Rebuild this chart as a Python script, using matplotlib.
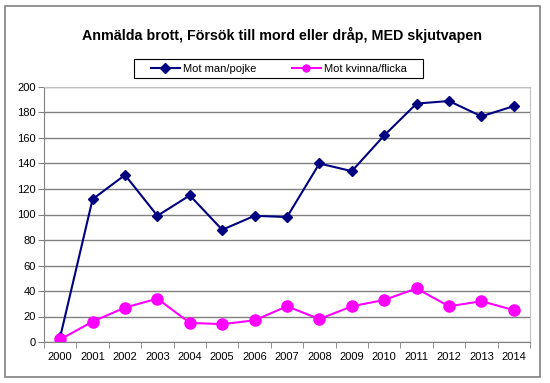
import numpy as np
import matplotlib.pyplot as plt
from matplotlib.patches import Rectangle

# data
years = ['2000', '2001', '2002', '2003', '2004', '2005', '2006', '2007',
         '2008', '2009', '2010', '2011', '2012', '2013', '2014']
man = [4, 112, 131, 99, 115, 88, 99, 98, 140, 134, 162, 187, 189, 177, 185]
kvinna = [2, 16, 27, 34, 15, 14, 17, 28, 18, 28, 33, 42, 28, 32, 25]

plt.rcParams['font.family'] = ['Liberation Sans', 'DejaVu Sans']

W, H = 550, 383
fig = plt.figure(figsize=(5.5, 3.83), dpi=100)
# yttre ram
fig.patches.append(Rectangle((5/W, 6/H), 535/W, 371/H, transform=fig.transFigure,
                             fill=False, edgecolor='#808080', linewidth=1.2))
# legendram
fig.patches.append(Rectangle((134/W, 1 - 78/H), 289/W, 19.5/H, transform=fig.transFigure,
                             fill=False, edgecolor='black', linewidth=0.8))

ax = fig.add_axes([44/W, 41/H, 486/W, 255/H])
x = np.arange(len(years))

ax.plot(x, man, color='#000080', marker='D', markersize=5.5, linewidth=1.5, label='Mot man/pojke')
ax.plot(x, kvinna, color='#FF00FF', marker='o', markersize=8, linewidth=1.5, label='Mot kvinna/flicka')

ax.set_xlim(-0.5, len(years) - 0.5)
ax.set_ylim(0, 200)
ax.set_yticks(np.arange(0, 201, 20))
ax.set_xticks(x)
ax.set_xticklabels(years)
ax.set_xticks(np.arange(-0.5, len(years), 1), minor=True)
ax.tick_params(axis='x', which='major', length=0, labelsize=8, pad=7)
ax.tick_params(axis='x', which='minor', length=4, direction='out', color='#808080')
ax.tick_params(axis='y', length=4, direction='out', labelsize=8, color='#808080', pad=2)

ax.grid(axis='y', color='#808080', linewidth=1)
ax.set_axisbelow(True)
for s in ['top', 'right']:
    ax.spines[s].set_color('#c0c0c0')
for s in ['left', 'bottom']:
    ax.spines[s].set_color('#808080')

fig.text(282/W, 1 - 35/H, 'Anmälda brott, Försök till mord eller dråp, MED skjutvapen',
         ha='center', va='center', fontsize=10.3, fontweight='bold')

leg = fig.legend(loc='center', bbox_to_anchor=(279/W, 1 - 68.5/H), ncol=2, fontsize=8,
                 frameon=False, handlelength=2.6, columnspacing=3.2,
                 borderpad=0.2, handletextpad=0.3)
for h in leg.legend_handles:
    h.set_markersize(5)

fig.savefig('out.png', dpi=100)
